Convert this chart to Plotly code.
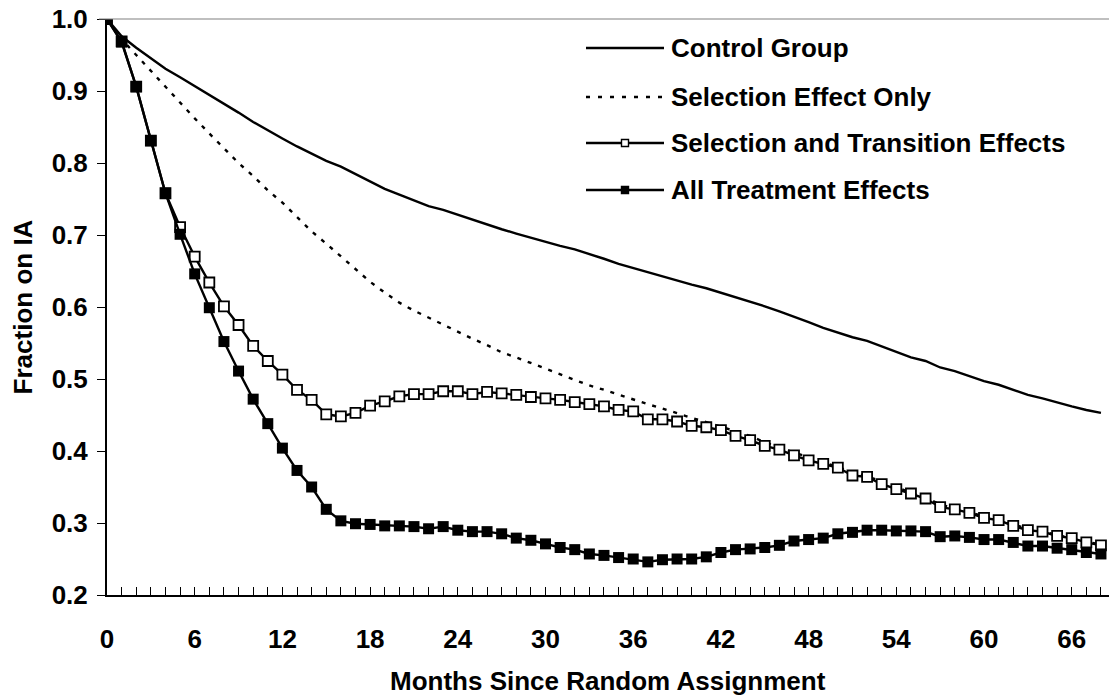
import plotly.graph_objects as go

# Months since random assignment
months = list(range(69))

# Fraction of each group still on IA, by month
control_group = [
    1.000, 0.976, 0.960, 0.945, 0.931, 0.919, 0.907, 0.895, 0.883, 0.870,
    0.857, 0.845, 0.834, 0.823, 0.813, 0.803, 0.795, 0.785, 0.774, 0.764,
    0.756, 0.748, 0.740, 0.735, 0.728, 0.721, 0.714, 0.708, 0.702, 0.696,
    0.691, 0.685, 0.680, 0.674, 0.667, 0.660, 0.654, 0.649, 0.643, 0.637,
    0.631, 0.626, 0.620, 0.613, 0.607, 0.601, 0.594, 0.587, 0.579, 0.571,
    0.564, 0.558, 0.553, 0.545, 0.537, 0.530, 0.525, 0.516, 0.511, 0.504,
    0.497, 0.492, 0.485, 0.478, 0.473, 0.467, 0.462, 0.457, 0.453,
]

selection_only = [
    1.000, 0.972, 0.950, 0.928, 0.906, 0.883, 0.862, 0.841, 0.820, 0.800,
    0.782, 0.762, 0.745, 0.725, 0.705, 0.688, 0.670, 0.652, 0.635, 0.620,
    0.606, 0.595, 0.585, 0.576, 0.565, 0.556, 0.547, 0.537, 0.530, 0.522,
    0.514, 0.506, 0.498, 0.491, 0.485, 0.478, 0.471, 0.465, 0.459, 0.452,
    0.446, 0.440, 0.434, 0.427, 0.421, 0.412, 0.405, 0.397, 0.390, 0.384,
    0.378, 0.370, 0.365, 0.357, 0.349, 0.342, 0.335, 0.326, 0.320, 0.315,
    0.309, 0.304, 0.298, 0.292, 0.288, 0.283, 0.279, 0.274, 0.270,
]

selection_transition = [
    1.000, 0.969, 0.906, 0.831, 0.758, 0.711, 0.670, 0.634, 0.601, 0.575,
    0.546, 0.525, 0.506, 0.485, 0.471, 0.451, 0.448, 0.453, 0.463, 0.469,
    0.476, 0.479, 0.479, 0.483, 0.483, 0.479, 0.482, 0.480, 0.478, 0.475,
    0.473, 0.471, 0.468, 0.465, 0.462, 0.457, 0.455, 0.444, 0.444, 0.441,
    0.435, 0.433, 0.429, 0.421, 0.415, 0.407, 0.402, 0.394, 0.387, 0.382,
    0.377, 0.366, 0.364, 0.354, 0.347, 0.341, 0.334, 0.322, 0.319, 0.314,
    0.307, 0.304, 0.296, 0.290, 0.288, 0.282, 0.279, 0.273, 0.269,
]

all_treatment = [
    1.000, 0.968, 0.906, 0.831, 0.758, 0.701, 0.646, 0.599, 0.552, 0.511,
    0.472, 0.438, 0.404, 0.373, 0.350, 0.319, 0.303, 0.299, 0.298, 0.296,
    0.296, 0.295, 0.292, 0.295, 0.290, 0.288, 0.288, 0.285, 0.279, 0.276,
    0.271, 0.266, 0.263, 0.257, 0.255, 0.252, 0.250, 0.246, 0.249, 0.250,
    0.250, 0.253, 0.259, 0.263, 0.264, 0.266, 0.269, 0.275, 0.277, 0.279,
    0.285, 0.287, 0.290, 0.290, 0.289, 0.289, 0.288, 0.281, 0.282, 0.280,
    0.277, 0.277, 0.273, 0.268, 0.268, 0.265, 0.263, 0.259, 0.257,
]

series_names = [
    "Control Group",
    "Selection Effect Only",
    "Selection and Transition Effects",
    "All Treatment Effects",
]
x_title = "Months Since Random Assignment"
y_title = "Fraction on IA"

FONT = "Liberation Sans, Arial, sans-serif"
W, H = 1109, 700
L, R, T, B = 107, 0, 19, 105

fig = go.Figure()

fig.add_trace(go.Scatter(
    x=months, y=control_group, name=series_names[0], mode="lines",
    line=dict(color="black", width=2.4),
))
fig.add_trace(go.Scatter(
    x=months, y=selection_only, name=series_names[1], mode="lines",
    line=dict(color="black", width=2.4, dash="4px,7px"),
))
fig.add_trace(go.Scatter(
    x=months, y=selection_transition, name=series_names[2], mode="lines+markers",
    line=dict(color="black", width=2.4),
    marker=dict(symbol="square", size=10, color="white",
                line=dict(color="black", width=1.8)),
))
fig.add_trace(go.Scatter(
    x=months, y=all_treatment, name=series_names[3], mode="lines+markers",
    line=dict(color="black", width=2.4),
    marker=dict(symbol="square", size=11, color="black",
                line=dict(color="black", width=0)),
))

# Legend block drawn in paper space: sample line, marker, label
plot_w = W - L - R
plot_h = H - T - B


def px_x(p):
    return (p - L) / plot_w


def px_y(p):
    return 1 - (p - T) / plot_h


row_y = [48, 97, 143, 190]
line_x0, line_x1, mark_x, text_x = 586, 664, 625, 669
styles = [
    dict(dash="solid", marker=None),
    dict(dash="dot", marker=None),
    dict(dash="solid", marker="hollow"),
    dict(dash="solid", marker="filled"),
]
for name, ry, st in zip(series_names, row_y, styles):
    yy = px_y(ry)
    fig.add_shape(type="line", xref="paper", yref="paper",
                  x0=px_x(line_x0), x1=px_x(line_x1), y0=yy, y1=yy,
                  line=dict(color="black", width=2.4,
                            dash="solid" if st["dash"] == "solid" else "4px,8px"))
    if st["marker"]:
        fill = "white" if st["marker"] == "hollow" else "black"
        fig.add_shape(type="rect", xref="paper", yref="paper",
                      xsizemode="pixel", ysizemode="pixel",
                      xanchor=px_x(mark_x), yanchor=yy,
                      x0=-3.5, x1=3.5, y0=-3.5, y1=3.5,
                      fillcolor=fill, line=dict(color="black", width=1.4))
    fig.add_annotation(xref="paper", yref="paper", x=px_x(text_x), y=yy,
                       text=name, showarrow=False, xanchor="left",
                       yanchor="middle",
                       font=dict(family=FONT, size=26, color="black", weight="bold"))

# Horizontal axis title, centred under the plot area
fig.add_annotation(xref="paper", yref="paper", x=0.5, y=px_y(681),
                   text=x_title, showarrow=False, xanchor="center",
                   yanchor="middle",
                   font=dict(family=FONT, size=26, color="black", weight="bold"))

# Grey frame along the top of the plot area
fig.add_shape(type="line", xref="paper", yref="paper", x0=-8 / plot_w, x1=1,
              y0=1, y1=1, line=dict(color="#808080", width=1.2))

fig.update_layout(
    width=W, height=H,
    margin=dict(l=L, r=R, t=T, b=B),
    plot_bgcolor="white", paper_bgcolor="white",
    showlegend=False,
    font=dict(family=FONT, size=26, color="black", weight="bold"),
)

fig.update_xaxes(
    range=[0, 68.55],
    tickmode="linear", tick0=0, dtick=6,
    ticks="inside", ticklen=8, tickwidth=1, tickcolor="black",
    minor=dict(tick0=0, dtick=1, ticks="inside", ticklen=8, tickwidth=1,
               tickcolor="black", showgrid=False),
    showline=True, linecolor="black", linewidth=2,
    showgrid=False, zeroline=False,
    ticklabelstandoff=20,
    tickfont=dict(family=FONT, size=26, color="black", weight="bold"),
)

fig.update_yaxes(
    range=[0.2, 1.0],
    tickmode="linear", tick0=0.2, dtick=0.1, tickformat=".1f",
    ticks="outside", ticklen=8, tickwidth=1, tickcolor="black",
    showline=True, linecolor="black", linewidth=2,
    showgrid=False, zeroline=False,
    ticklabelstandoff=4,
    tickfont=dict(family=FONT, size=26, color="black", weight="bold"),
    title=dict(text=y_title, standoff=12,
               font=dict(family=FONT, size=26, color="black", weight="bold")),
)

fig.write_html("out.html")
